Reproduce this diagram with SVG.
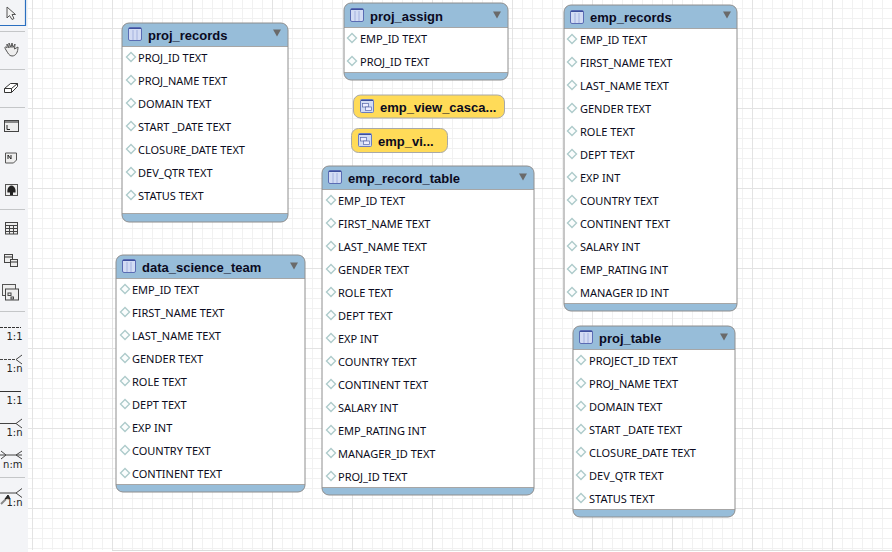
<svg xmlns="http://www.w3.org/2000/svg" width="892" height="552" viewBox="0 0 892 552">
<style>
.b{fill:#fff}
.h{fill:#97bdd9}
.l{fill:none;stroke:#a6a6a6;stroke-width:1}
.o{fill:none;stroke:#8e8e8e;stroke-width:1}
.t{font-family:"Liberation Sans",Arial,sans-serif;font-size:13px;font-weight:700;fill:#0a0a1e}
.r{font-family:"Noto Sans","Liberation Sans",sans-serif;font-size:11px;fill:#0b0b20}
.k{font-family:"DejaVu Sans",sans-serif;font-size:10px;fill:#222;text-anchor:end}
.s{stroke:#c4c6c8;stroke-width:1;fill:none}
.i{fill:none;stroke:#444;stroke-width:1}
</style>
<defs>
<pattern id="g" width="80" height="80" patternUnits="userSpaceOnUse" x="32" y="28">
<path d="M10.500 0V80M20.500 0V80M30.500 0V80M40.500 0V80M50.500 0V80M60.500 0V80M70.500 0V80M0 10.500H80M0 20.500H80M0 30.500H80M0 40.500H80M0 50.500H80M0 60.500H80M0 70.500H80" fill="none" stroke="#f1f1f1"/>
<path d="M0.500 0V80M0 0.500H80" fill="none" stroke="#e3e3e3"/>
</pattern>
<g id="ti"><rect x="0.500" y="0.500" width="13" height="13" rx="1.500" fill="#d3dcf4" stroke="#5a6cb4"/><path d="M1 1.500H13" stroke="#3c4f9c" fill="none"/><path d="M5 3V13M9 3V13" stroke="#a4b2de" fill="none"/></g>
<g id="vi"><rect x="0.500" y="0.500" width="13" height="13" rx="1" fill="#d3dcf4" stroke="#6a7cc0"/><path d="M1 1.500H13" stroke="#3c4f9c" fill="none"/><rect x="2.500" y="4.500" width="6" height="3.500" fill="#eef" stroke="#5667a8" stroke-width=".7"/><rect x="5.500" y="8" width="6" height="3.500" fill="#eef" stroke="#5667a8" stroke-width=".7"/></g>
<path id="d" d="M0-4.500 4.500 0 0 4.500-4.500 0Z" fill="#fbfdfd" stroke="#aecbcb" stroke-width="1.400"/>
<path id="a" d="M-4-3.500H4L0 3.500Z" fill="#6a6a6a"/>
</defs>
<rect width="892" height="552" fill="#fff"/>
<rect x="28" y="0" width="864" height="550" fill="url(#g)"/>
<path d="M112 550.500H892" stroke="#dcdcdc" fill="none"/>
<g id="toolbar">
<rect x="0" y="0" width="28" height="552" fill="#f3f4f7"/>
<path d="M0 31.500H25M0 69.500H25M0 107.500H25M0 209.500H25M0 311.500H25M0 477.500H25" class="s"/>
<path d="M0 25.500H25.500V0" fill="none" stroke="#2a6fc0" stroke-width="1.200"/>
<path d="M7 7V18L9.500 15.500 12 19.500 14 18.500 12 14.500H15.500Z" fill="#f3f3f3" stroke="#555"/>
<path d="M6 50C4 47 5 46 7 48L7 44 9 48V43L11 47.500 12 43 13 47.500 15 44 14.500 49 18 47C18 52 16 56 12 56 9 56 8 53 6 50Z" fill="#eee" stroke="#555"/>
<path d="M4.500 88.500 10.500 83.500H17.500V86.500L11.500 92.500H4.500ZM4.500 88.500H11.500V92.500M11.500 88.500 17.500 83.500" fill="#fff" stroke="#333"/>
<rect x="4.500" y="120.500" width="14" height="11" fill="#eee" stroke="#444"/><path d="M4.500 122H18.500" stroke="#222"/><path d="M7 125V129.500H10" fill="none" stroke="#222"/>
<path d="M5.500 153H16.500V160L13.500 163H5.500Z" fill="#eee" stroke="#555"/><path d="M8 159V155L11 159V155" fill="none" stroke="#222"/>
<rect x="5.500" y="184.500" width="12" height="11" fill="#eee" stroke="#555"/><path d="M11.500 185.500C15 186 16 190 15.500 192.500H13V195H10V192.500H7.500C7 190 8 186 11.500 185.500Z" fill="#222"/>
<rect x="5.500" y="222.500" width="12" height="11.500" fill="#eee" stroke="#444"/><path d="M5.500 225.500H17.500M5.500 228.500H17.500M5.500 231.500H17.500M9.500 225V234M13.500 225V234" stroke="#444" fill="none"/>
<rect x="4.500" y="254.500" width="8" height="8" fill="#eee" stroke="#444"/><rect x="10.500" y="259.500" width="7" height="7" fill="#eee" stroke="#444"/><path d="M4.500 257H12.500M10.500 262H17.500" stroke="#333"/>
<rect x="2.500" y="284.500" width="13" height="11" fill="#eee" stroke="#555"/><rect x="5.500" y="289" width="13" height="11" fill="#eee" stroke="#444"/><rect x="8" y="293" width="3" height="2.500" class="i"/><rect x="11" y="297" width="2.500" height="2" class="i"/>
<path d="M0 327.500H21" stroke="#333" stroke-dasharray="3 1"/>
<path d="M0 359.500H16" stroke="#444" stroke-dasharray="3 1"/><path d="M22 355 16 359.500 22 364" fill="none" stroke="#444"/>
<path d="M0 391.500H21" stroke="#333"/>
<path d="M0 423.500H16M22 419 16 423.500 22 428" fill="none" stroke="#444"/>
<path d="M0 455H22M1 451 6 455 1 459M22 451 16 455 22 459" fill="none" stroke="#444"/>
<path d="M0 493H16M22 488.500 16 493 22 497.500" fill="none" stroke="#444"/>
<path d="M1 504 6 499" stroke="#888" stroke-width="2"/><path d="M5 499 8 495 9.500 497.500Z" fill="#222" stroke="#222"/>
<text class="k" x="22.500" y="340">1:1</text><text class="k" x="22.500" y="372">1:n</text><text class="k" x="22.500" y="404">1:1</text><text class="k" x="22.500" y="436">1:n</text><text class="k" x="22.500" y="468">n:m</text><text class="k" x="22.500" y="506">1:n</text>
</g>
<g id="connectors"></g>

<g id="proj_records">
<rect class="b" x="122" y="23" width="166" height="199" rx="7"/>
<path class="h" d="M122 46V30a7 7 0 0 1 7-7H281a7 7 0 0 1 7 7V46Z"/><path class="h" d="M122 213H288V215a7 7 0 0 1-7 7H129a7 7 0 0 1-7-7Z"/>
<path class="l" d="M122 46.500H288M122 213.500H288"/><rect class="o" x="122" y="23" width="166" height="199" rx="7"/>
<use href="#ti" x="128" y="27"/><text class="t" x="148" y="40">proj_records</text><use href="#a" x="277" y="33"/>
<g class="r"><use href="#d" x="131" y="57"/><text x="138" y="62">PROJ_ID TEXT</text><use href="#d" x="131" y="80"/><text x="138" y="85">PROJ_NAME TEXT</text><use href="#d" x="131" y="103"/><text x="138" y="108">DOMAIN TEXT</text><use href="#d" x="131" y="126"/><text x="138" y="131">START _DATE TEXT</text><use href="#d" x="131" y="149"/><text x="138" y="154">CLOSURE_DATE TEXT</text><use href="#d" x="131" y="172"/><text x="138" y="177">DEV_QTR TEXT</text><use href="#d" x="131" y="195"/><text x="138" y="200">STATUS TEXT</text></g>
</g>

<g id="proj_assign">
<rect class="b" x="344" y="3" width="164" height="77" rx="7"/>
<path class="h" d="M344 27V10a7 7 0 0 1 7-7H501a7 7 0 0 1 7 7V27Z"/><path class="h" d="M344 72H508V73a7 7 0 0 1-7 7H351a7 7 0 0 1-7-7Z"/>
<path class="l" d="M344 27.500H508M344 72.500H508"/><rect class="o" x="344" y="3" width="164" height="77" rx="7"/>
<use href="#ti" x="350" y="8"/><text class="t" x="370" y="21">proj_assign</text><use href="#a" x="497" y="15"/>
<g class="r"><use href="#d" x="352" y="38"/><text x="360" y="43">EMP_ID TEXT</text><use href="#d" x="352" y="61"/><text x="360" y="66">PROJ_ID TEXT</text></g>
</g>

<g id="emp_records">
<rect class="b" x="564" y="5" width="173" height="306" rx="7"/>
<path class="h" d="M564 28V12a7 7 0 0 1 7-7H730a7 7 0 0 1 7 7V28Z"/><path class="h" d="M564 303H737V304a7 7 0 0 1-7 7H571a7 7 0 0 1-7-7Z"/>
<path class="l" d="M564 28.500H737M564 303.500H737"/><rect class="o" x="564" y="5" width="173" height="306" rx="7"/>
<use href="#ti" x="570" y="10"/><text class="t" x="590" y="22">emp_records</text><use href="#a" x="727" y="15"/>
<g class="r"><use href="#d" x="572" y="39"/><text x="580" y="44">EMP_ID TEXT</text><use href="#d" x="572" y="62"/><text x="580" y="67">FIRST_NAME TEXT</text><use href="#d" x="572" y="85"/><text x="580" y="90">LAST_NAME TEXT</text><use href="#d" x="572" y="108"/><text x="580" y="113">GENDER TEXT</text><use href="#d" x="572" y="131"/><text x="580" y="136">ROLE TEXT</text><use href="#d" x="572" y="154"/><text x="580" y="159">DEPT TEXT</text><use href="#d" x="572" y="177"/><text x="580" y="182">EXP INT</text><use href="#d" x="572" y="200"/><text x="580" y="205">COUNTRY TEXT</text><use href="#d" x="572" y="223"/><text x="580" y="228">CONTINENT TEXT</text><use href="#d" x="572" y="246"/><text x="580" y="251">SALARY INT</text><use href="#d" x="572" y="269"/><text x="580" y="274">EMP_RATING INT</text><use href="#d" x="572" y="292"/><text x="580" y="297">MANAGER ID INT</text></g>
</g>

<g id="emp_view_cascade"><rect x="353.500" y="95" width="151" height="23" rx="7" fill="#ffdb58" stroke="#a8a8a8"/><use href="#vi" x="360" y="99"/><text class="t" x="380" y="112">emp_view_casca...</text></g>
<g id="emp_view"><rect x="351.500" y="128.500" width="96" height="24" rx="7" fill="#ffdb58" stroke="#a8a8a8"/><use href="#vi" x="358" y="133"/><text class="t" x="378" y="146">emp_vi...</text></g>

<g id="emp_record_table">
<rect class="b" x="322" y="166" width="212" height="329" rx="7"/>
<path class="h" d="M322 189V173a7 7 0 0 1 7-7H527a7 7 0 0 1 7 7V189Z"/><path class="h" d="M322 487H534V488a7 7 0 0 1-7 7H329a7 7 0 0 1-7-7Z"/>
<path class="l" d="M322 189.500H534M322 487.500H534"/><rect class="o" x="322" y="166" width="212" height="329" rx="7"/>
<use href="#ti" x="328" y="170"/><text class="t" x="348" y="183">emp_record_table</text><use href="#a" x="523" y="177"/>
<g class="r"><use href="#d" x="331" y="200"/><text x="338" y="205">EMP_ID TEXT</text><use href="#d" x="331" y="223"/><text x="338" y="228">FIRST_NAME TEXT</text><use href="#d" x="331" y="246"/><text x="338" y="251">LAST_NAME TEXT</text><use href="#d" x="331" y="269"/><text x="338" y="274">GENDER TEXT</text><use href="#d" x="331" y="292"/><text x="338" y="297">ROLE TEXT</text><use href="#d" x="331" y="315"/><text x="338" y="320">DEPT TEXT</text><use href="#d" x="331" y="338"/><text x="338" y="343">EXP INT</text><use href="#d" x="331" y="361"/><text x="338" y="366">COUNTRY TEXT</text><use href="#d" x="331" y="384"/><text x="338" y="389">CONTINENT TEXT</text><use href="#d" x="331" y="407"/><text x="338" y="412">SALARY INT</text><use href="#d" x="331" y="430"/><text x="338" y="435">EMP_RATING INT</text><use href="#d" x="331" y="453"/><text x="338" y="458">MANAGER_ID TEXT</text><use href="#d" x="331" y="476"/><text x="338" y="481">PROJ_ID TEXT</text></g>
</g>

<g id="data_science_team">
<rect class="b" x="116" y="255" width="189" height="237" rx="7"/>
<path class="h" d="M116 278V262a7 7 0 0 1 7-7H298a7 7 0 0 1 7 7V278Z"/><path class="h" d="M116 484H305V485a7 7 0 0 1-7 7H123a7 7 0 0 1-7-7Z"/>
<path class="l" d="M116 278.500H305M116 484.500H305"/><rect class="o" x="116" y="255" width="189" height="237" rx="7"/>
<use href="#ti" x="122" y="259"/><text class="t" x="142" y="272">data_science_team</text><use href="#a" x="294" y="266"/>
<g class="r"><use href="#d" x="125" y="289"/><text x="132" y="294">EMP_ID TEXT</text><use href="#d" x="125" y="312"/><text x="132" y="317">FIRST_NAME TEXT</text><use href="#d" x="125" y="335"/><text x="132" y="340">LAST_NAME TEXT</text><use href="#d" x="125" y="358"/><text x="132" y="363">GENDER TEXT</text><use href="#d" x="125" y="381"/><text x="132" y="386">ROLE TEXT</text><use href="#d" x="125" y="404"/><text x="132" y="409">DEPT TEXT</text><use href="#d" x="125" y="427"/><text x="132" y="432">EXP INT</text><use href="#d" x="125" y="450"/><text x="132" y="455">COUNTRY TEXT</text><use href="#d" x="125" y="473"/><text x="132" y="478">CONTINENT TEXT</text></g>
</g>

<g id="proj_table">
<rect class="b" x="573" y="326" width="162" height="191" rx="7"/>
<path class="h" d="M573 349V333a7 7 0 0 1 7-7H728a7 7 0 0 1 7 7V349Z"/><path class="h" d="M573 509H735V510a7 7 0 0 1-7 7H580a7 7 0 0 1-7-7Z"/>
<path class="l" d="M573 349.500H735M573 509.500H735"/><rect class="o" x="573" y="326" width="162" height="191" rx="7"/>
<use href="#ti" x="579" y="330"/><text class="t" x="599" y="343">proj_table</text><use href="#a" x="724" y="337"/>
<g class="r"><use href="#d" x="581" y="360"/><text x="589" y="365">PROJECT_ID TEXT</text><use href="#d" x="581" y="383"/><text x="589" y="388">PROJ_NAME TEXT</text><use href="#d" x="581" y="406"/><text x="589" y="411">DOMAIN TEXT</text><use href="#d" x="581" y="429"/><text x="589" y="434">START _DATE TEXT</text><use href="#d" x="581" y="452"/><text x="589" y="457">CLOSURE_DATE TEXT</text><use href="#d" x="581" y="475"/><text x="589" y="480">DEV_QTR TEXT</text><use href="#d" x="581" y="498"/><text x="589" y="503">STATUS TEXT</text></g>
</g>
</svg>
